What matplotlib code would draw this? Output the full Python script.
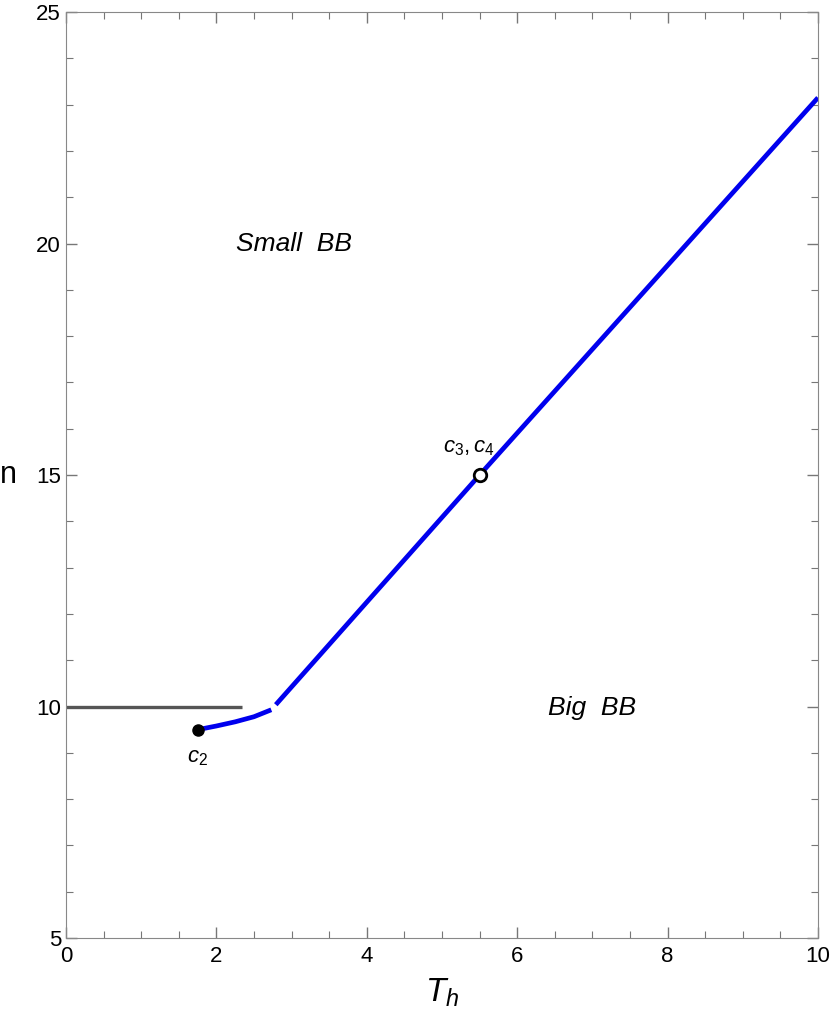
import numpy as np
from matplotlib import pyplot as plt
from matplotlib.ticker import MultipleLocator

plt.rcParams['font.family'] = ['Liberation Sans', 'DejaVu Sans']
plt.rcParams['mathtext.fontset'] = 'custom'
plt.rcParams['mathtext.it'] = 'Liberation Sans:italic'
plt.rcParams['mathtext.rm'] = 'Liberation Sans'

# phase boundary pieces
gray_x = [0.0, 2.34]
gray_n = [10.0, 10.0]
low_x = [1.75, 2.0, 2.25, 2.5, 2.73]
low_n = [9.5, 9.58, 9.67, 9.78, 9.93]
up_x = [2.79, 5.5, 10.0]
up_n = [10.04, 15.0, 23.15]

c2 = (1.75, 9.5)
c34 = (5.5, 15.0)

fig = plt.figure(figsize=(8.3, 10.28), dpi=100)
ax = fig.add_axes([0.0795, 0.0875, 0.906, 0.9008])

ax.plot(gray_x, gray_n, color='#555555', lw=2.4, solid_capstyle='butt')
ax.plot(low_x, low_n, color='#0000ee', lw=3.4, solid_capstyle='butt')
ax.plot(up_x, up_n, color='#0000ee', lw=3.4, solid_capstyle='butt')

ax.plot(*c2, 'o', color='black', ms=8, zorder=5)
ax.plot(*c34, 'o', mfc='white', mec='black', mew=2, ms=9, zorder=5)

ax.text(c2[0], c2[1] - 0.6, r'$c_2$', ha='center', va='center', fontsize=16)
ax.text(c34[0] - 0.15, c34[1] + 0.6, r'$c_3,c_4$', ha='center', va='center', fontsize=16)
ax.text(3.03, 20.0, 'Small  BB', style='italic', ha='center', va='center', fontsize=19)
ax.text(7.0, 9.97, 'Big  BB', style='italic', ha='center', va='center', fontsize=19)

ax.set_xlim(0, 10)
ax.set_ylim(5, 25)
ax.xaxis.set_major_locator(MultipleLocator(2))
ax.xaxis.set_minor_locator(MultipleLocator(0.5))
ax.yaxis.set_major_locator(MultipleLocator(5))
ax.yaxis.set_minor_locator(MultipleLocator(1))
ax.tick_params(which='both', direction='in', top=True, right=True,
               labelsize=16, color='#777777')
ax.tick_params(axis='x', pad=6)
ax.tick_params(which='major', length=8, width=1)
ax.tick_params(which='minor', length=5, width=0.8)
for s in ax.spines.values():
    s.set_color('#888888')

ax.set_xlabel(r'$T_h$', fontsize=24)
ax.xaxis.set_label_coords(0.5, -0.042)
ax.set_ylabel('n', fontsize=22, rotation=0, va='center', ha='center')
ax.yaxis.set_label_coords(-0.077, 0.5)

fig.savefig('out.png', dpi=100)
